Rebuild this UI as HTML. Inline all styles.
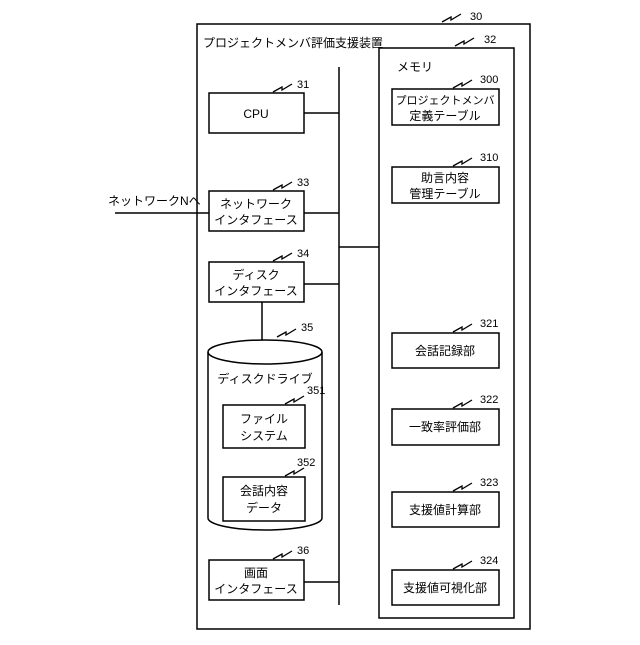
<!DOCTYPE html>
<html><head><meta charset="utf-8"><style>
body{margin:0;background:#fff}
svg text{font-family:"Liberation Sans","Noto Sans CJK JP",sans-serif;font-size:12px;fill:#000}
svg text.n{font-size:11px}
</style></head><body>
<svg width="640" height="640" viewBox="0 0 640 640" xmlns="http://www.w3.org/2000/svg">
<defs><path id="z" d="M0,0 l9,-5 l0,3 l10,-6" fill="none" stroke="#000" stroke-width="1.3"/></defs>
<g fill="none" stroke="#000" stroke-width="1.5">
<rect x="197" y="24" width="333" height="605"/>
<rect x="379" y="48" width="135" height="570"/>
<line x1="339" y1="67" x2="339" y2="605"/>
<line x1="339" y1="247" x2="379" y2="247"/>
<rect x="209" y="93" width="95" height="40"/><line x1="304" y1="113" x2="339" y2="113"/>
<rect x="209" y="191" width="95" height="40"/><line x1="304" y1="213" x2="339" y2="213"/>
<line x1="115" y1="213" x2="209" y2="213"/>
<rect x="209" y="262" width="95" height="40"/><line x1="304" y1="284" x2="339" y2="284"/>
<line x1="262" y1="302" x2="262" y2="340"/>
<rect x="209" y="560" width="95" height="40"/><line x1="304" y1="582" x2="339" y2="582"/>
<path d="M208,352 L208,518 A57,12 0 0 0 322,518 L322,352"/>
<ellipse cx="265" cy="352" rx="57" ry="12"/>
<rect x="223" y="405" width="82" height="43"/>
<rect x="223" y="477" width="82" height="44"/>
<rect x="392" y="89" width="107" height="36"/>
<rect x="392" y="167" width="107" height="36"/>
<rect x="392" y="333" width="107" height="35"/>
<rect x="392" y="409" width="107" height="36"/>
<rect x="392" y="492" width="107" height="35"/>
<rect x="392" y="570" width="107" height="35"/>
</g>
<use href="#z" x="442" y="22"/><use href="#z" x="455" y="46"/>
<use href="#z" x="273" y="92"/><use href="#z" x="273" y="190"/><use href="#z" x="273" y="261"/>
<use href="#z" x="277" y="337"/><use href="#z" x="285" y="404"/><use href="#z" x="285" y="476"/>
<use href="#z" x="273" y="559"/>
<use href="#z" x="453" y="88"/><use href="#z" x="453" y="166"/><use href="#z" x="453" y="332"/>
<use href="#z" x="453" y="408"/><use href="#z" x="453" y="491"/><use href="#z" x="453" y="569"/>
<text class="n" x="470" y="20">30</text><text class="n" x="484" y="43">32</text>
<text class="n" x="297" y="88">31</text><text class="n" x="297" y="186">33</text><text class="n" x="297" y="257">34</text>
<text class="n" x="301" y="331">35</text><text class="n" x="307" y="394">351</text><text class="n" x="297" y="466">352</text>
<text class="n" x="297" y="554">36</text>
<text class="n" x="480" y="83">300</text><text class="n" x="480" y="161">310</text><text class="n" x="480" y="327">321</text>
<text class="n" x="480" y="403">322</text><text class="n" x="480" y="486">323</text><text class="n" x="480" y="564">324</text>
<text x="203" y="47">プロジェクトメンバ評価支援装置</text>
<text x="397" y="71">メモリ</text>
<text x="108" y="205">ネットワークNへ</text>
<g text-anchor="middle">
<text x="256" y="118">CPU</text>
<text x="256" y="208">ネットワーク</text><text x="256" y="224">インタフェース</text>
<text x="256" y="279">ディスク</text><text x="256" y="295">インタフェース</text>
<text x="265" y="383">ディスクドライブ</text>
<text x="264" y="423">ファイル</text><text x="264" y="440">システム</text>
<text x="264" y="495">会話内容</text><text x="264" y="512">データ</text>
<text x="256" y="577">画面</text><text x="256" y="593">インタフェース</text>
<text x="445" y="104" style="font-size:11px">プロジェクトメンバ</text><text x="445" y="120">定義テーブル</text>
<text x="445" y="182">助言内容</text><text x="445" y="198">管理テーブル</text>
<text x="445" y="355">会話記録部</text>
<text x="445" y="431">一致率評価部</text>
<text x="445" y="514">支援値計算部</text>
<text x="445" y="592">支援値可視化部</text>
</g>
</svg>
</body></html>
